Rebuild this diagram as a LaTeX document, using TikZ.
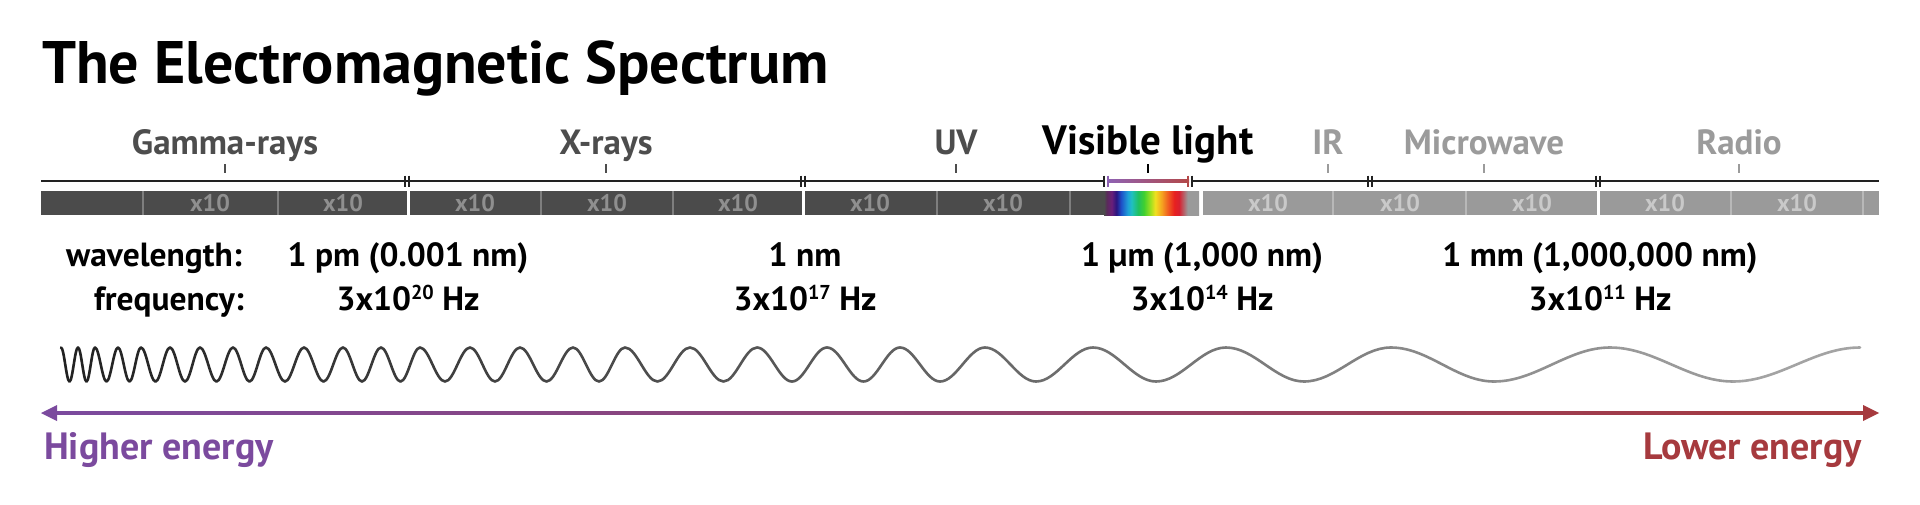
\documentclass[tikz,border=0pt]{standalone}
\usepackage{fontspec}
\setmainfont{PT Sans}
\definecolor{catdark}{HTML}{4D4D4D}
\definecolor{catlight}{HTML}{9B9B9B}
\definecolor{darkbar}{HTML}{4B4B4B}
\definecolor{darksep}{HTML}{7E7E7E}
\definecolor{darktext}{HTML}{8F8F8F}
\definecolor{lightbar}{HTML}{9A9A9A}
\definecolor{lightsep}{HTML}{B8B8B8}
\definecolor{lighttext}{HTML}{C9C9C9}
\definecolor{purp}{HTML}{7B4A9E}
\definecolor{redd}{HTML}{A63A3E}
\definecolor{vispurp}{HTML}{8E62B4}
\definecolor{visred}{HTML}{B34848}
\definecolor{axiscol}{HTML}{222222}
\definecolor{spA}{HTML}{5A2A5A}
\definecolor{spB}{HTML}{6A1F7A}
\definecolor{spC}{HTML}{2A1580}
\definecolor{spD}{HTML}{1E50C8}
\definecolor{spE}{HTML}{1FA0D8}
\definecolor{spF}{HTML}{20C0C0}
\definecolor{spG}{HTML}{20C060}
\definecolor{spH}{HTML}{40D030}
\definecolor{spI}{HTML}{A0E020}
\definecolor{spJ}{HTML}{F0E020}
\definecolor{spK}{HTML}{F5A020}
\definecolor{spL}{HTML}{F06020}
\definecolor{spM}{HTML}{E82020}
\definecolor{spN}{HTML}{D82030}
\pgfdeclarehorizontalshading{spectrum}{100bp}{color(0bp)=(darkbar); color(25bp)=(darkbar);
 color(26.5bp)=(spA); color(29bp)=(spB); color(31.5bp)=(spC); color(34bp)=(spD);
 color(37.5bp)=(spE); color(39.5bp)=(spF); color(43bp)=(spG); color(46bp)=(spH);
 color(49.5bp)=(spI); color(52bp)=(spJ); color(55.5bp)=(spK); color(58.5bp)=(spL);
 color(62bp)=(spM); color(64.5bp)=(spN); color(69bp)=(lightbar); color(75bp)=(lightbar);
 color(100bp)=(lightbar)}
\newcommand{\supnum}[1]{\raisebox{0.32em}{\fontsize{0.6em}{0.62em}\selectfont #1}}
\begin{document}
\begin{tikzpicture}[x=1pt,y=-1pt,
  titlefont/.style={font=\fontsize{60}{64}\selectfont\bfseries, inner sep=0pt},
  catlbl/.style={font=\fontsize{35}{38}\selectfont\bfseries, anchor=base, inner sep=0pt},
  rowtxt/.style={font=\fontsize{33.5}{36}\selectfont\bfseries, anchor=base, inner sep=0pt},
  xten/.style={font=\fontsize{24}{26}\selectfont\bfseries, anchor=base, inner sep=0pt},
  energy/.style={font=\fontsize{38}{40}\selectfont\bfseries, inner sep=0pt},
  tickmark/.style={line width=1.6pt},
  axisline/.style={line width=2.4pt, draw=axiscol},
  dtick/.style={line width=1.8pt, draw=axiscol},
  sepline/.style={line width=2.2pt}
]
\useasboundingbox[fill=white] (0,0) rectangle (1920,504);

% title
\node[titlefont, anchor=base west] (title) at (42,83) {The Electromagnetic Spectrum};

% category labels and their ticks
\foreach \x/\t/\c [count=\i] in {225/Gamma-rays/catdark, 606/X-rays/catdark, 956/UV/catdark,
   1328/IR/catlight, 1484/Microwave/catlight, 1739/Radio/catlight} {
  \node[catlbl, text=\c] (cat\i) at (\x,154) {\t};
  \draw[tickmark, draw=\c] (\x,164) -- (\x,173);
}
\node[catlbl, font=\fontsize{41}{44}\selectfont\bfseries, text=black] (vis) at (1148,154) {Visible light};
\draw[tickmark, draw=black] (1148,164) -- (1148,173);

% axis line
\draw[axisline] (41,181) -- (1105,181);
\draw[axisline] (1191,181) -- (1879,181);
\shade[left color=vispurp, right color=visred] (1107,179.9) rectangle (1189,182.1);
\foreach \p in {405,409,801,805,1104,1192,1368,1372,1596,1600}
  \draw[dtick] (\p,175.5) -- (\p,186.5);
\draw[dtick, draw=vispurp] (1108,175.5) -- (1108,186.5);
\draw[dtick, draw=visred] (1188,175.5) -- (1188,186.5);

% bar
\fill[darkbar] (41,191) rectangle (406.5,215);
\fill[darkbar] (409.5,191) rectangle (802,215);
\fill[darkbar] (805,191) rectangle (1199,215);
\fill[lightbar] (1203,191) rectangle (1596.5,215);
\fill[lightbar] (1599.5,191) rectangle (1879,215);
\foreach \x in {143,278,541,673,937,1070}
  \draw[sepline, draw=darksep] (\x,191) -- (\x,215);
\foreach \x in {1333,1466,1731,1863}
  \draw[sepline, draw=lightsep] (\x,191) -- (\x,215);
\shade[shading=spectrum] (1104,191) rectangle (1199,215);
\foreach \x [count=\i] in {210,343,475,607,738,870,1003}
  \node[xten, text=darktext] (xd\i) at (\x,211) {x10};
\foreach \x [count=\i] in {1268,1400,1532,1665,1797}
  \node[xten, text=lighttext] (xl\i) at (\x,211) {x10};

% wavelength / frequency rows
\node[rowtxt, anchor=base east] (wl) at (242,266) {wavelength:};
\node[rowtxt, anchor=base east] (fq) at (244,310) {frequency:};
\node[rowtxt] (w1) at (408,266) {1 pm (0.001 nm)};
\node[rowtxt] (w2) at (805,266) {1 nm};
\node[rowtxt] (w3) at (1202,266) {1 µm (1,000 nm)};
\node[rowtxt] (w4) at (1600,266) {1 mm (1,000,000 nm)};
\node[rowtxt] (f1) at (408,310) {3x10\supnum{20} Hz};
\node[rowtxt] (f2) at (805,310) {3x10\supnum{17} Hz};
\node[rowtxt] (f3) at (1202,310) {3x10\supnum{14} Hz};
\node[rowtxt] (f4) at (1600,310) {3x10\supnum{11} Hz};

% wave with growing wavelength
\foreach \xa/\xb [count=\i] in {61/69.5, 69.5/78, 78/86.5, 86.5/95, 95/106.5, 106.5/118,
  118/129.5, 129.5/141, 141/155.5, 155.5/170, 170/185, 185/200, 200/216.5, 216.5/233,
  233/249.5, 249.5/266, 266/285, 285/304, 304/323.5, 323.5/343, 343/362, 362/381,
  381/400.5, 400.5/420, 420/445, 445/470, 470/495, 495/520, 520/546.5, 546.5/573,
  573/599, 599/625, 625/657.5, 657.5/690, 690/723.5, 723.5/757, 757/792, 792/827,
  827/863.5, 863.5/900, 900/940, 940/985, 985/1036, 1036/1093, 1093/1156, 1156/1226,
  1226/1304, 1304/1391, 1391/1494, 1494/1610, 1610/1733, 1733/1860} {
  \pgfmathsetmacro\ya{isodd(\i) ? 347.5 : 381.5}
  \pgfmathsetmacro\yb{isodd(\i) ? 381.5 : 347.5}
  \pgfmathsetmacro\xm{(\xa+\xb)/2}
  \pgfmathsetmacro\pc{87-(\xa-61)/1799*55}
  \draw[line width=2.6pt, draw=black!\pc, line cap=round] (\xa,\ya) cos (\xm,364.5) sin (\xb,\yb);
}

% energy arrow
\coordinate (aL) at (41,413);
\coordinate (aR) at (1879,413);
\shade[left color=purp, right color=redd] (56,411.5) rectangle (1865,414.5);
\fill[purp] (aL) -- (57,405) -- (57,421) -- cycle;
\fill[redd] (aR) -- (1863,405) -- (1863,421) -- cycle;
\node[energy, text=purp, anchor=base west] (hi) at (44,459) {Higher energy};
\node[energy, text=redd, anchor=base east] (lo) at (1862,459) {Lower energy};
\end{tikzpicture}
\end{document}
